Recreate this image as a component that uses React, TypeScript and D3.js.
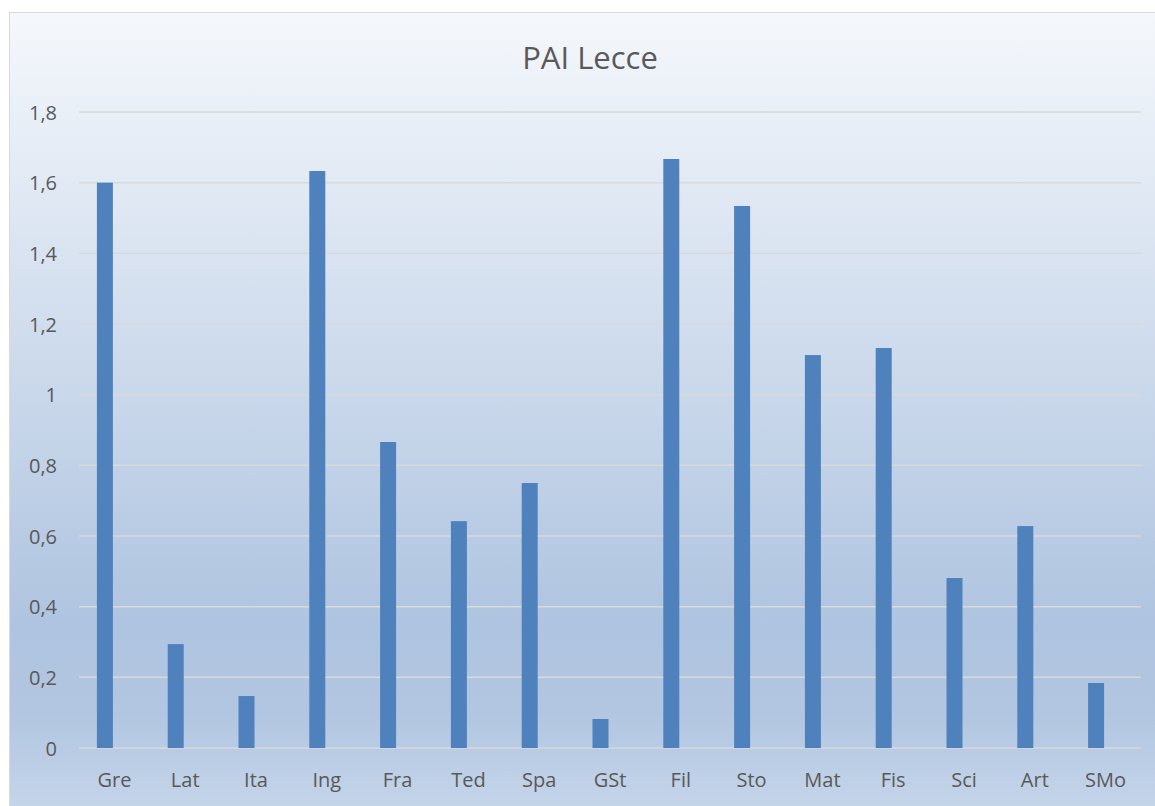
import React from 'react';
import * as d3 from 'd3';

const categories = ['Gre', 'Lat', 'Ita', 'Ing', 'Fra', 'Ted', 'Spa', 'GSt', 'Fil', 'Sto', 'Mat', 'Fis', 'Sci', 'Art', 'SMo'];
const values = [1.6, 0.294, 0.147, 1.633, 0.866, 0.642, 0.75, 0.082, 1.667, 1.534, 1.112, 1.132, 0.481, 0.628, 0.184];
const yTicks = [0, 0.2, 0.4, 0.6, 0.8, 1, 1.2, 1.4, 1.6, 1.8];
const title = 'PAI Lecce';

const W = 1155;
const H = 806;
const font = '"Open Sans", "Noto Sans", sans-serif';

export default function App() {
  const margin = { top: 112, right: 14, bottom: 58, left: 79 };

  const x = d3.scaleBand<string>()
    .domain(categories)
    .range([margin.left, W - margin.right]);

  const y = d3.scaleLinear()
    .domain([0, 1.8])
    .range([H - margin.bottom, margin.top]);

  const bw = x.bandwidth();
  const barW = bw * 0.226;
  const fmt = (d: number) => String(+d.toFixed(1)).replace('.', ',');

  return (
    <svg width={W} height={H} style={{ position: 'absolute', left: 0, top: 0 }}>
      <defs>
        <linearGradient id="bg" x1="0" y1="0" x2="0" y2="1">
          <stop offset="0%" stopColor="#f5f8fc" />
          <stop offset="74%" stopColor="#afc4e0" />
          <stop offset="85%" stopColor="#b2c6e1" />
          <stop offset="100%" stopColor="#cbdaed" />
        </linearGradient>
      </defs>
      <rect x={9.5} y={12.5} width={W + 20} height={H + 20} fill="url(#bg)" stroke="#d9d9d9" />
      <text x={590} y={57} textAnchor="middle" dominantBaseline="central"
        fontFamily={font} fontSize={31} fill="#595959">{title}</text>

      {yTicks.map(t => (
        <g key={t}>
          <line x1={margin.left} x2={W - margin.right} y1={y(t)} y2={y(t)} stroke="#d9d9d9" strokeWidth={1.5} />
          <text x={57} y={y(t)} textAnchor="end" dominantBaseline="central"
            fontFamily={font} fontSize={20} fill="#595959">{fmt(t)}</text>
        </g>
      ))}

      {categories.map((c, i) => {
        const cx = (x(c) ?? 0) + bw / 2;
        return (
          <g key={c}>
            <rect x={cx - barW - 1.5} y={y(values[i])} width={barW} height={y(0) - y(values[i])} fill="#4f81bd" />
            <text x={cx} y={779} textAnchor="middle" dominantBaseline="central"
              fontFamily={font} fontSize={20} fill="#595959">{c}</text>
          </g>
        );
      })}
    </svg>
  );
}
